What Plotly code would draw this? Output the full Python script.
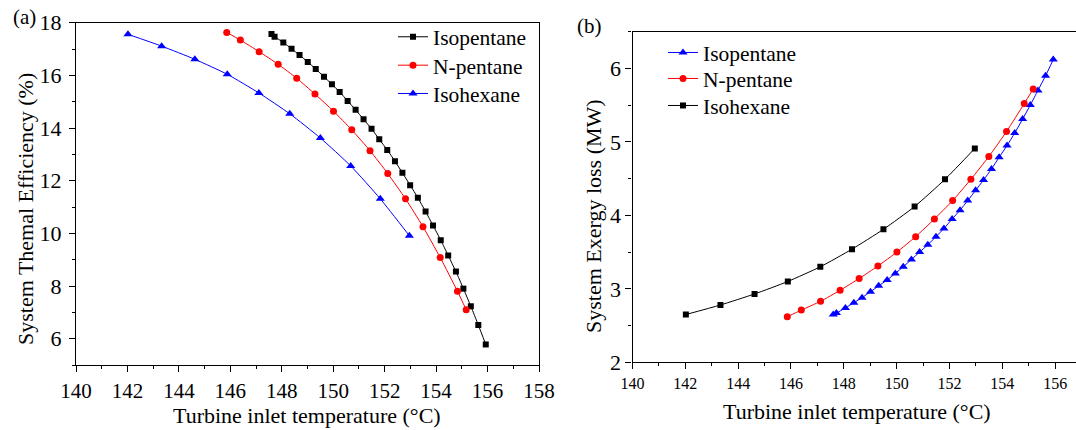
import plotly.graph_objects as go

# ---------------- data ----------------
# Panel (a): System thermal efficiency (%)
a_isopentane_t = [147.60, 147.72, 148.06, 148.38, 148.69, 149.01, 149.32, 149.64, 149.95, 150.25,
                  150.56, 150.87, 151.18, 151.49, 151.79, 152.10, 152.40, 152.69, 152.99, 153.29,
                  153.59, 153.88, 154.18, 154.47, 154.77, 155.06, 155.35, 155.64, 155.93]
a_isopentane_eff = [17.57, 17.47, 17.25, 17.01, 16.77, 16.51, 16.24, 15.95, 15.66, 15.37,
                    15.03, 14.69, 14.33, 13.97, 13.57, 13.17, 12.74, 12.30, 11.83, 11.35,
                    10.83, 10.30, 9.74, 9.16, 8.55, 7.90, 7.23, 6.52, 5.78]

npentane_t = [145.86, 146.39, 147.12, 147.86, 148.58, 149.29, 150.01, 150.72, 151.43, 152.12,
              152.81, 153.49, 154.16, 154.83, 155.17]
a_npentane_eff = [17.63, 17.34, 16.90, 16.42, 15.89, 15.29, 14.64, 13.93, 13.14, 12.27,
                  11.31, 10.25, 9.08, 7.80, 7.10]

isohexane_t = [142.02, 143.33, 144.62, 145.88, 147.11, 148.31, 149.50, 150.68, 151.83, 152.96]
a_isohexane_eff = [17.56, 17.11, 16.61, 16.04, 15.33, 14.54, 13.62, 12.56, 11.31, 9.91]

# Panel (b): System exergy loss (MW)
b_isopentane_t = a_isopentane_t
b_isopentane_loss = [2.65, 2.67, 2.74, 2.81, 2.88, 2.96, 3.04, 3.12, 3.21, 3.30,
                     3.40, 3.50, 3.60, 3.71, 3.82, 3.95, 4.07, 4.20, 4.34, 4.48,
                     4.63, 4.79, 4.95, 5.12, 5.31, 5.50, 5.70, 5.90, 6.12]
b_npentane_loss = [2.62, 2.71, 2.83, 2.98, 3.14, 3.31, 3.50, 3.71, 3.95, 4.20,
                   4.49, 4.80, 5.14, 5.52, 5.72]
b_isohexane_loss = [2.65, 2.78, 2.93, 3.10, 3.30, 3.54, 3.81, 4.12, 4.49, 4.91]

x_ticks = [140, 142, 144, 146, 148, 150, 152, 154, 156, 158]
a_y_ticks = [6, 8, 10, 12, 14, 16, 18]
b_y_ticks = [2, 3, 4, 5, 6]

# ---------------- styling ----------------
FONT = "Liberation Serif"
W, H = 1076, 430


def px_x(p):
    return p / W


def px_y(p):
    return 1 - p / H


fig = go.Figure()


def add(x, y, name, color, symbol, size, xa, ya, legend):
    fig.add_trace(go.Scatter(
        x=x, y=y, name=name, mode="lines+markers",
        line=dict(color=color, width=1, shape="spline", smoothing=0.6),
        marker=dict(color=color, symbol=symbol, size=size, line=dict(width=0)),
        xaxis=xa, yaxis=ya, legend=legend))


add(a_isopentane_t, a_isopentane_eff, "Isopentane", "#000000", "square", 6, "x", "y", "legend")
add(npentane_t, a_npentane_eff, "N-pentane", "#ff0000", "circle", 7, "x", "y", "legend3")
add(isohexane_t, a_isohexane_eff, "Isohexane", "#0000ff", "triangle-up", 8, "x", "y", "legend4")

add(b_isopentane_t, b_isopentane_loss, "Isopentane", "#0000ff", "triangle-up", 8, "x2", "y2", "legend2")
add(npentane_t, b_npentane_loss, "N-pentane", "#ff0000", "circle", 7, "x2", "y2", "legend5")
add(isohexane_t, b_isohexane_loss, "Isohexane", "#000000", "square", 6, "x2", "y2", "legend6")

axis_common = dict(
    showline=True, linecolor="black", linewidth=1.3,
    ticks="outside", ticklen=6, tickwidth=1.2, tickcolor="black",
    showgrid=False, zeroline=False, automargin=False,
)
minor_common = dict(ticks="outside", ticklen=3, tickcolor="black", tickwidth=1.2)


def leg(x_px, top_px):
    return dict(x=px_x(x_px), y=px_y(top_px), xanchor="left", yanchor="top",
                bgcolor="rgba(0,0,0,0)", font=dict(size=21.5, family=FONT),
                itemwidth=30)


xtitle = "Turbine inlet temperature (°C)"

fig.update_layout(
    width=W, height=H,
    margin=dict(l=0, r=0, t=0, b=0),
    paper_bgcolor="white", plot_bgcolor="white",
    font=dict(family=FONT, color="black", size=21),
    xaxis=dict(**axis_common, mirror=True, domain=[px_x(76), px_x(539)], range=[140, 158],
               tickvals=x_ticks, tickfont=dict(size=21), ticklabelstandoff=1,
               minor=dict(dtick=1, **minor_common), anchor="y"),
    yaxis=dict(**axis_common, mirror=True, domain=[px_y(365), px_y(22.7)], range=[5, 18],
               tickvals=a_y_ticks, tickfont=dict(size=22), ticklabelstandoff=3,
               minor=dict(dtick=1, **minor_common), anchor="x"),
    xaxis2=dict(**axis_common, mirror=True, domain=[px_x(632.5), 1.0], range=[140, 156.79],
                tickvals=x_ticks, tickfont=dict(size=16),
                minor=dict(dtick=1, **minor_common), anchor="y2"),
    yaxis2=dict(**axis_common, mirror=False, domain=[px_y(362.3), px_y(31.6)], range=[2, 6.5],
                tickvals=b_y_ticks, tickfont=dict(size=22),
                minor=dict(dtick=0.5, **minor_common), anchor="x2"),
    legend=leg(393, 16.3),
    legend3=leg(393, 44.7),
    legend4=leg(393, 73),
    legend2=leg(663, 32),
    legend5=leg(663, 58),
    legend6=leg(663, 85),
    showlegend=True,
    annotations=[
        dict(text="(a)", x=px_x(11), y=px_y(17), xref="paper", yref="paper",
             xanchor="left", yanchor="middle", showarrow=False, font=dict(size=21)),
        dict(text="(b)", x=px_x(575), y=px_y(26), xref="paper", yref="paper",
             xanchor="left", yanchor="middle", showarrow=False, font=dict(size=21)),
        dict(text=xtitle, x=px_x(307), y=px_y(415.5), xref="paper", yref="paper",
             xanchor="center", yanchor="middle", showarrow=False, font=dict(size=22)),
        dict(text=xtitle, x=px_x(857), y=px_y(411), xref="paper", yref="paper",
             xanchor="center", yanchor="middle", showarrow=False, font=dict(size=22)),
        dict(text="System Themal Efficiency (%)", x=px_x(26), y=px_y(209), xref="paper", yref="paper",
             xanchor="center", yanchor="middle", showarrow=False, textangle=-90, font=dict(size=22)),
        dict(text="System Exergy loss (MW)", x=px_x(593), y=px_y(216), xref="paper", yref="paper",
             xanchor="center", yanchor="middle", showarrow=False, textangle=-90, font=dict(size=22)),
    ],
)

fig.write_html("out.html")
